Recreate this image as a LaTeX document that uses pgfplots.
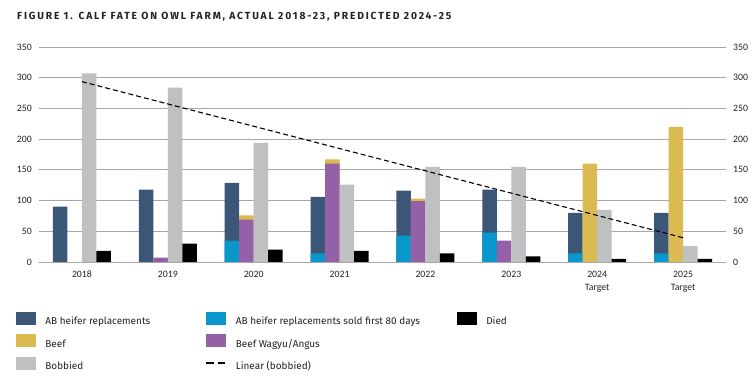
\documentclass[border=0pt]{standalone}
\usepackage{pgfplots}
\pgfplotsset{compat=1.18}
\usepackage{fontspec}
\setmainfont{Carlito}
\newfontfamily\legfont{Fira Sans}
\newfontfamily\titlefont[LetterSpace=18]{Fira Sans}
\definecolor{abblue}{HTML}{3C5677}
\definecolor{abcyan}{HTML}{0897CB}
\definecolor{beefgold}{HTML}{DCBA52}
\definecolor{wagyu}{HTML}{9461A8}
\definecolor{bobgrey}{HTML}{BFC0C2}
\definecolor{gridgrey}{HTML}{A6A6A6}
\definecolor{txt}{HTML}{222222}
\newcommand\lent[2]{\makebox[#1][l]{\rule[-3bp]{0pt}{12bp}\smash{#2}}}
\begin{document}
\begin{tikzpicture}
\useasboundingbox (0,0) rectangle (756bp,382bp);
\node[anchor=base west, inner sep=0pt, text=txt] at (17bp,362.5bp) {\titlefont\bfseries\fontsize{10.3}{12}\selectfont FIGURE 1. CALF FATE ON OWL FARM, ACTUAL 2018-23, PREDICTED 2024-25};
\begin{axis}[
  at={(39bp,120bp)}, anchor=south west, scale only axis,
  width=687bp, height=215bp,
  xmin=-0.5, xmax=7.5, ymin=0, ymax=350,
  ytick={0,50,...,350}, xtick={0,...,7},
  xticklabels={2018,2019,2020,2021,2022,2023,{2024\\Target},{2025\\Target}},
  /pgf/number format/assume math mode=true,
  axis line style={draw=none}, major tick length=0pt,
  ymajorgrids, grid style={color=gridgrey, line width=0.9bp},
  tick label style={font=\fontsize{9.8}{13}\selectfont, text=txt},
  xticklabel style={align=center, inner sep=0pt, yshift=-9bp},
  yticklabel style={inner sep=0pt, xshift=-7bp},
  legend style={at={(-0.0335,-0.232)}, anchor=north west, draw=none, fill=none,
    font=\legfont\fontsize{10}{11}\selectfont, text=txt,
    inner sep=0pt, outer sep=0pt, nodes={inner sep=0pt},
    row sep=8bp, /tikz/every odd column/.append style={column sep=10bp}},
  legend columns=3, legend cell align=left,
]
% AB heifer replacements (total incl. sold)
\addplot[ybar, bar width=14.5bp, bar shift=-21.75bp, fill=abblue, draw=none, forget plot]
  coordinates {(0,90) (1,118) (2,129) (3,106) (4,116) (5,118) (6,80) (7,80)};
% AB heifer replacements sold first 80 days
\addplot[ybar, bar width=14.5bp, bar shift=-21.75bp, fill=abcyan, draw=none, forget plot]
  coordinates {(2,35) (3,14) (4,43) (5,48) (6,14) (7,14)};
% Beef (top of the beef stack)
\addplot[ybar, bar width=14.5bp, bar shift=-7.25bp, fill=beefgold, draw=none, forget plot]
  coordinates {(2,76) (3,167) (4,103) (6,160) (7,220)};
% Beef Wagyu/Angus
\addplot[ybar, bar width=14.5bp, bar shift=-7.25bp, fill=wagyu, draw=none, forget plot]
  coordinates {(1,7) (2,69) (3,160) (4,99) (5,35)};
% Bobbied
\addplot[ybar, bar width=14.5bp, bar shift=7.25bp, fill=bobgrey, draw=none, forget plot]
  coordinates {(0,307) (1,284) (2,194) (3,126) (4,155) (5,155) (6,85) (7,26)};
% Died
\addplot[ybar, bar width=14.5bp, bar shift=21.75bp, fill=black, draw=none, forget plot]
  coordinates {(0,18) (1,30) (2,20) (3,18) (4,14) (5,9) (6,5) (7,5)};
% Linear (bobbied)
\addplot[sharp plot, black, line width=1.1bp, dash pattern=on 5bp off 3bp, forget plot]
  coordinates {(0,293.6) (7,39.5)};

\addlegendimage{legend image code/.code={\fill[abblue] (0bp,-3bp) rectangle (19bp,9bp);}}
\addlegendentry{\lent{160bp}{AB heifer replacements}}
\addlegendimage{legend image code/.code={\fill[abcyan] (0bp,-3bp) rectangle (19bp,9bp);}}
\addlegendentry{\lent{221bp}{AB heifer replacements sold first 80 days}}
\addlegendimage{legend image code/.code={\fill[black] (0bp,-3bp) rectangle (19bp,9bp);}}
\addlegendentry{\lent{40bp}{Died}}
\addlegendimage{legend image code/.code={\fill[beefgold] (0bp,-3bp) rectangle (19bp,9bp);}}
\addlegendentry{\lent{160bp}{Beef}}
\addlegendimage{legend image code/.code={\fill[wagyu] (0bp,-3bp) rectangle (19bp,9bp);}}
\addlegendentry{\lent{221bp}{Beef Wagyu/Angus}}
\addlegendimage{legend image code/.code={\path[draw=none, fill=none] (0bp,-3bp) rectangle (19bp,9bp);}}
\addlegendentry{\lent{40bp}{}}
\addlegendimage{legend image code/.code={\fill[bobgrey] (0bp,-3bp) rectangle (19bp,9bp);}}
\addlegendentry{\lent{160bp}{Bobbied}}
\addlegendimage{legend image code/.code={\path[draw=none, fill=none] (0bp,-3bp) rectangle (19bp,9bp); \draw[black, line width=1.5bp, dash pattern=on 7.5bp off 4bp] (0bp,3bp) -- (19bp,3bp);}}
\addlegendentry{\lent{221bp}{Linear (bobbied)}}
\end{axis}
\begin{axis}[
  at={(39bp,120bp)}, anchor=south west, scale only axis,
  width=687bp, height=215bp,
  xmin=-0.5, xmax=7.5, ymin=0, ymax=350,
  ytick={0,50,...,350}, xtick=\empty,
  yticklabel pos=right,
  /pgf/number format/assume math mode=true,
  axis line style={draw=none}, major tick length=0pt,
  tick label style={font=\fontsize{9.8}{13}\selectfont, text=txt},
  yticklabel style={inner sep=0pt, xshift=7bp},
]
\end{axis}
\end{tikzpicture}
\end{document}
